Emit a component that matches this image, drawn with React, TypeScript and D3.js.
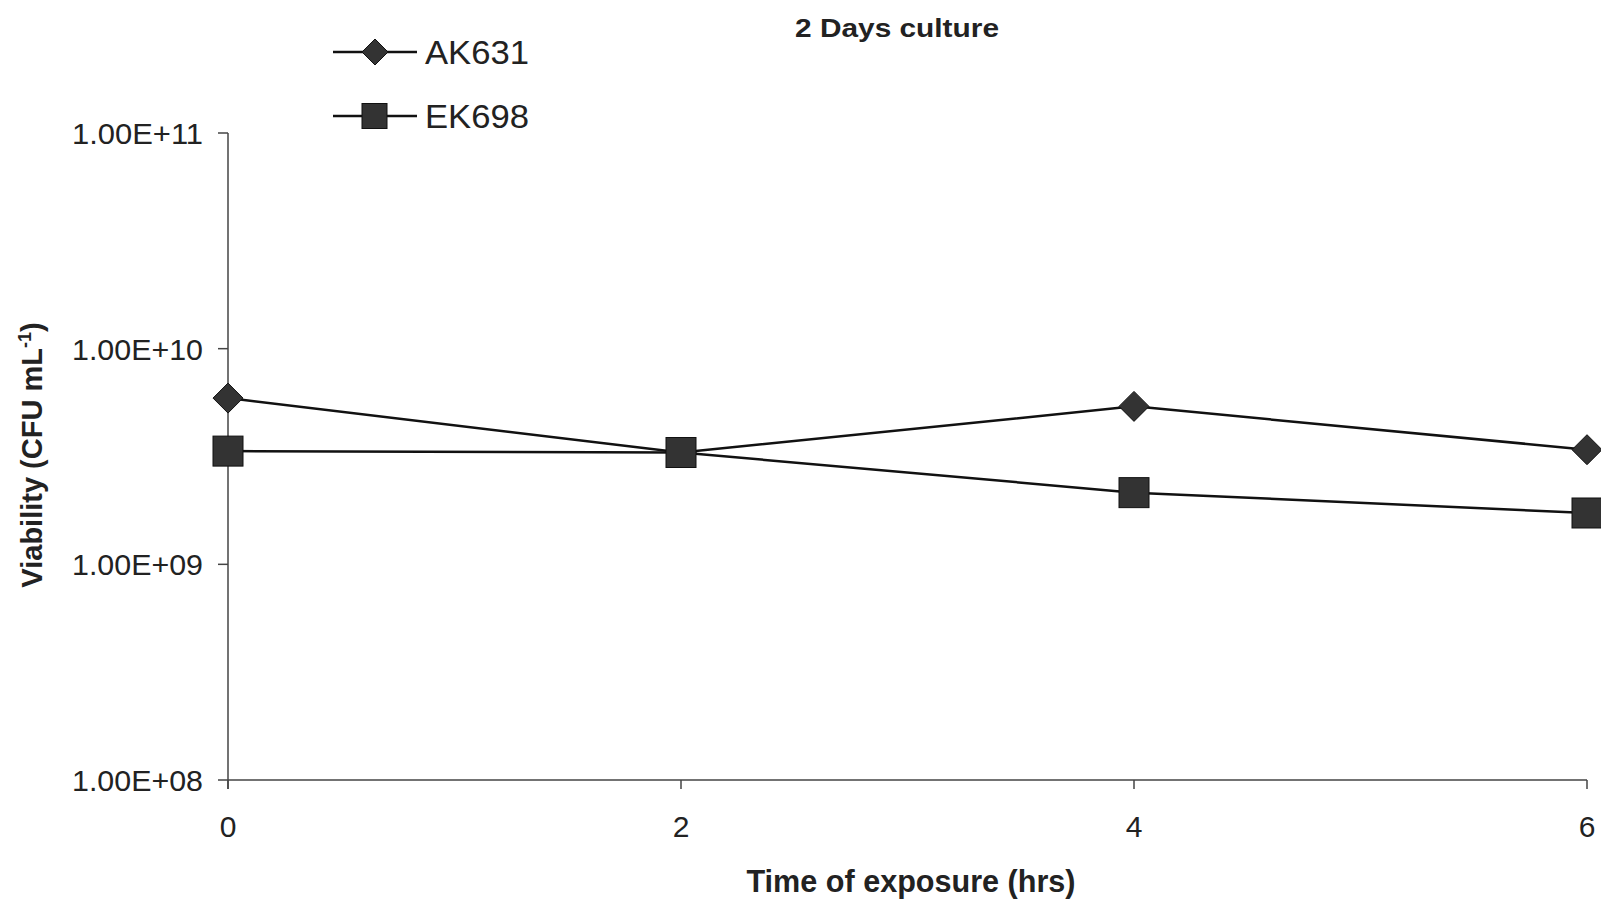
import React from "react";
import * as d3 from "d3";

// Exposure times (hrs) and viable counts (CFU/mL) for each strain
const times = [0, 2, 4, 6];
const ak631 = [5.9e9, 3.3e9, 5.4e9, 3.4e9];
const ek698 = [3.35e9, 3.3e9, 2.15e9, 1.73e9];

const xTicks = [0, 2, 4, 6];
const yTicks = [1e8, 1e9, 1e10, 1e11];
const yTickLabels = ["1.00E+08", "1.00E+09", "1.00E+10", "1.00E+11"];

const seriesNames = ["AK631", "EK698"];
const title = "2 Days culture";
const xTitle = "Time of exposure (hrs)";

const W = 1601;
const H = 903;
const FONT = "'Liberation Sans', Arial, sans-serif";
const INK = "#222";
const MARK = "#333";

export default function App() {
  const x = d3.scaleLinear().domain([0, 6]).range([228, 1587]);
  const y = d3.scaleLog().domain([1e8, 1e11]).range([780, 133]);

  const line = d3
    .line<number>()
    .x((_, i) => x(times[i]))
    .y((d) => y(d));

  const diamond = (cx: number, cy: number, r: number) =>
    `M${cx},${cy - r}L${cx + r},${cy}L${cx},${cy + r}L${cx - r},${cy}Z`;

  return (
    <svg
      width={W}
      height={H}
      style={{ position: "absolute", left: 0, top: 0, background: "#fff" }}
      fontFamily={FONT}
    >
      <rect width={W} height={H} fill="#fff" />

      {/* title */}
      <text x={897} y={37} textAnchor="middle" fontSize={26} fontWeight="bold" fill={INK} textLength={204} lengthAdjust="spacingAndGlyphs">
        {title}
      </text>

      {/* y axis */}
      <line x1={x(0)} x2={x(0)} y1={y(1e11)} y2={y(1e8) + 9} stroke="#444" strokeWidth={1.5} />
      {yTicks.map((t, i) => (
        <g key={t}>
          <line x1={x(0) - 10} x2={x(0)} y1={y(t)} y2={y(t)} stroke="#444" strokeWidth={1.5} />
          <text x={203} y={y(t) + 11} textAnchor="end" fontSize={30} fill={INK} textLength={131} lengthAdjust="spacingAndGlyphs">
            {yTickLabels[i]}
          </text>
        </g>
      ))}

      {/* x axis */}
      <line x1={x(0)} x2={x(6)} y1={y(1e8)} y2={y(1e8)} stroke="#444" strokeWidth={1.5} />
      {xTicks.map((t) => (
        <g key={t}>
          <line x1={x(t)} x2={x(t)} y1={y(1e8)} y2={y(1e8) + 9} stroke="#444" strokeWidth={1.5} />
          <text x={x(t)} y={837} textAnchor="middle" fontSize={30} fill={INK}>
            {t}
          </text>
        </g>
      ))}

      {/* axis titles */}
      <text x={911} y={892} textAnchor="middle" fontSize={31} fontWeight="bold" fill={INK} textLength={329} lengthAdjust="spacingAndGlyphs">
        {xTitle}
      </text>
      <text
        transform="translate(42,455) rotate(-90)"
        textAnchor="middle"
        fontSize={29}
        fontWeight="bold"
        fill={INK}
      >
        Viability (CFU mL
        <tspan fontSize={18} dy={-11}>-1</tspan>
        <tspan dy={11}>)</tspan>
      </text>

      {/* series lines */}
      <path d={line(ak631) || ""} fill="none" stroke="#111" strokeWidth={2.5} />
      <path d={line(ek698) || ""} fill="none" stroke="#111" strokeWidth={2.5} />

      {/* markers */}
      {ak631.map((v, i) => (
        <path key={"a" + i} d={diamond(x(times[i]), y(v), 15)} fill={MARK} stroke="#111" strokeWidth={1} />
      ))}
      {ek698.map((v, i) => (
        <rect key={"e" + i} x={x(times[i]) - 15} y={y(v) - 15} width={30} height={30} fill={MARK} stroke="#111" strokeWidth={1} />
      ))}

      {/* legend */}
      {seriesNames.map((name, i) => {
        const ly = i === 0 ? 52 : 116;
        return (
          <g key={name}>
            <line x1={333} x2={417} y1={ly} y2={ly} stroke="#111" strokeWidth={2.5} />
            {i === 0 ? (
              <path d={diamond(375, ly, 13)} fill={MARK} stroke="#111" strokeWidth={1} />
            ) : (
              <rect x={362} y={ly - 12.5} width={25} height={25} fill={MARK} stroke="#111" strokeWidth={1} />
            )}
            <text x={425} y={ly + 12} fontSize={34} fill={INK} textLength={104} lengthAdjust="spacingAndGlyphs">
              {name}
            </text>
          </g>
        );
      })}
    </svg>
  );
}
